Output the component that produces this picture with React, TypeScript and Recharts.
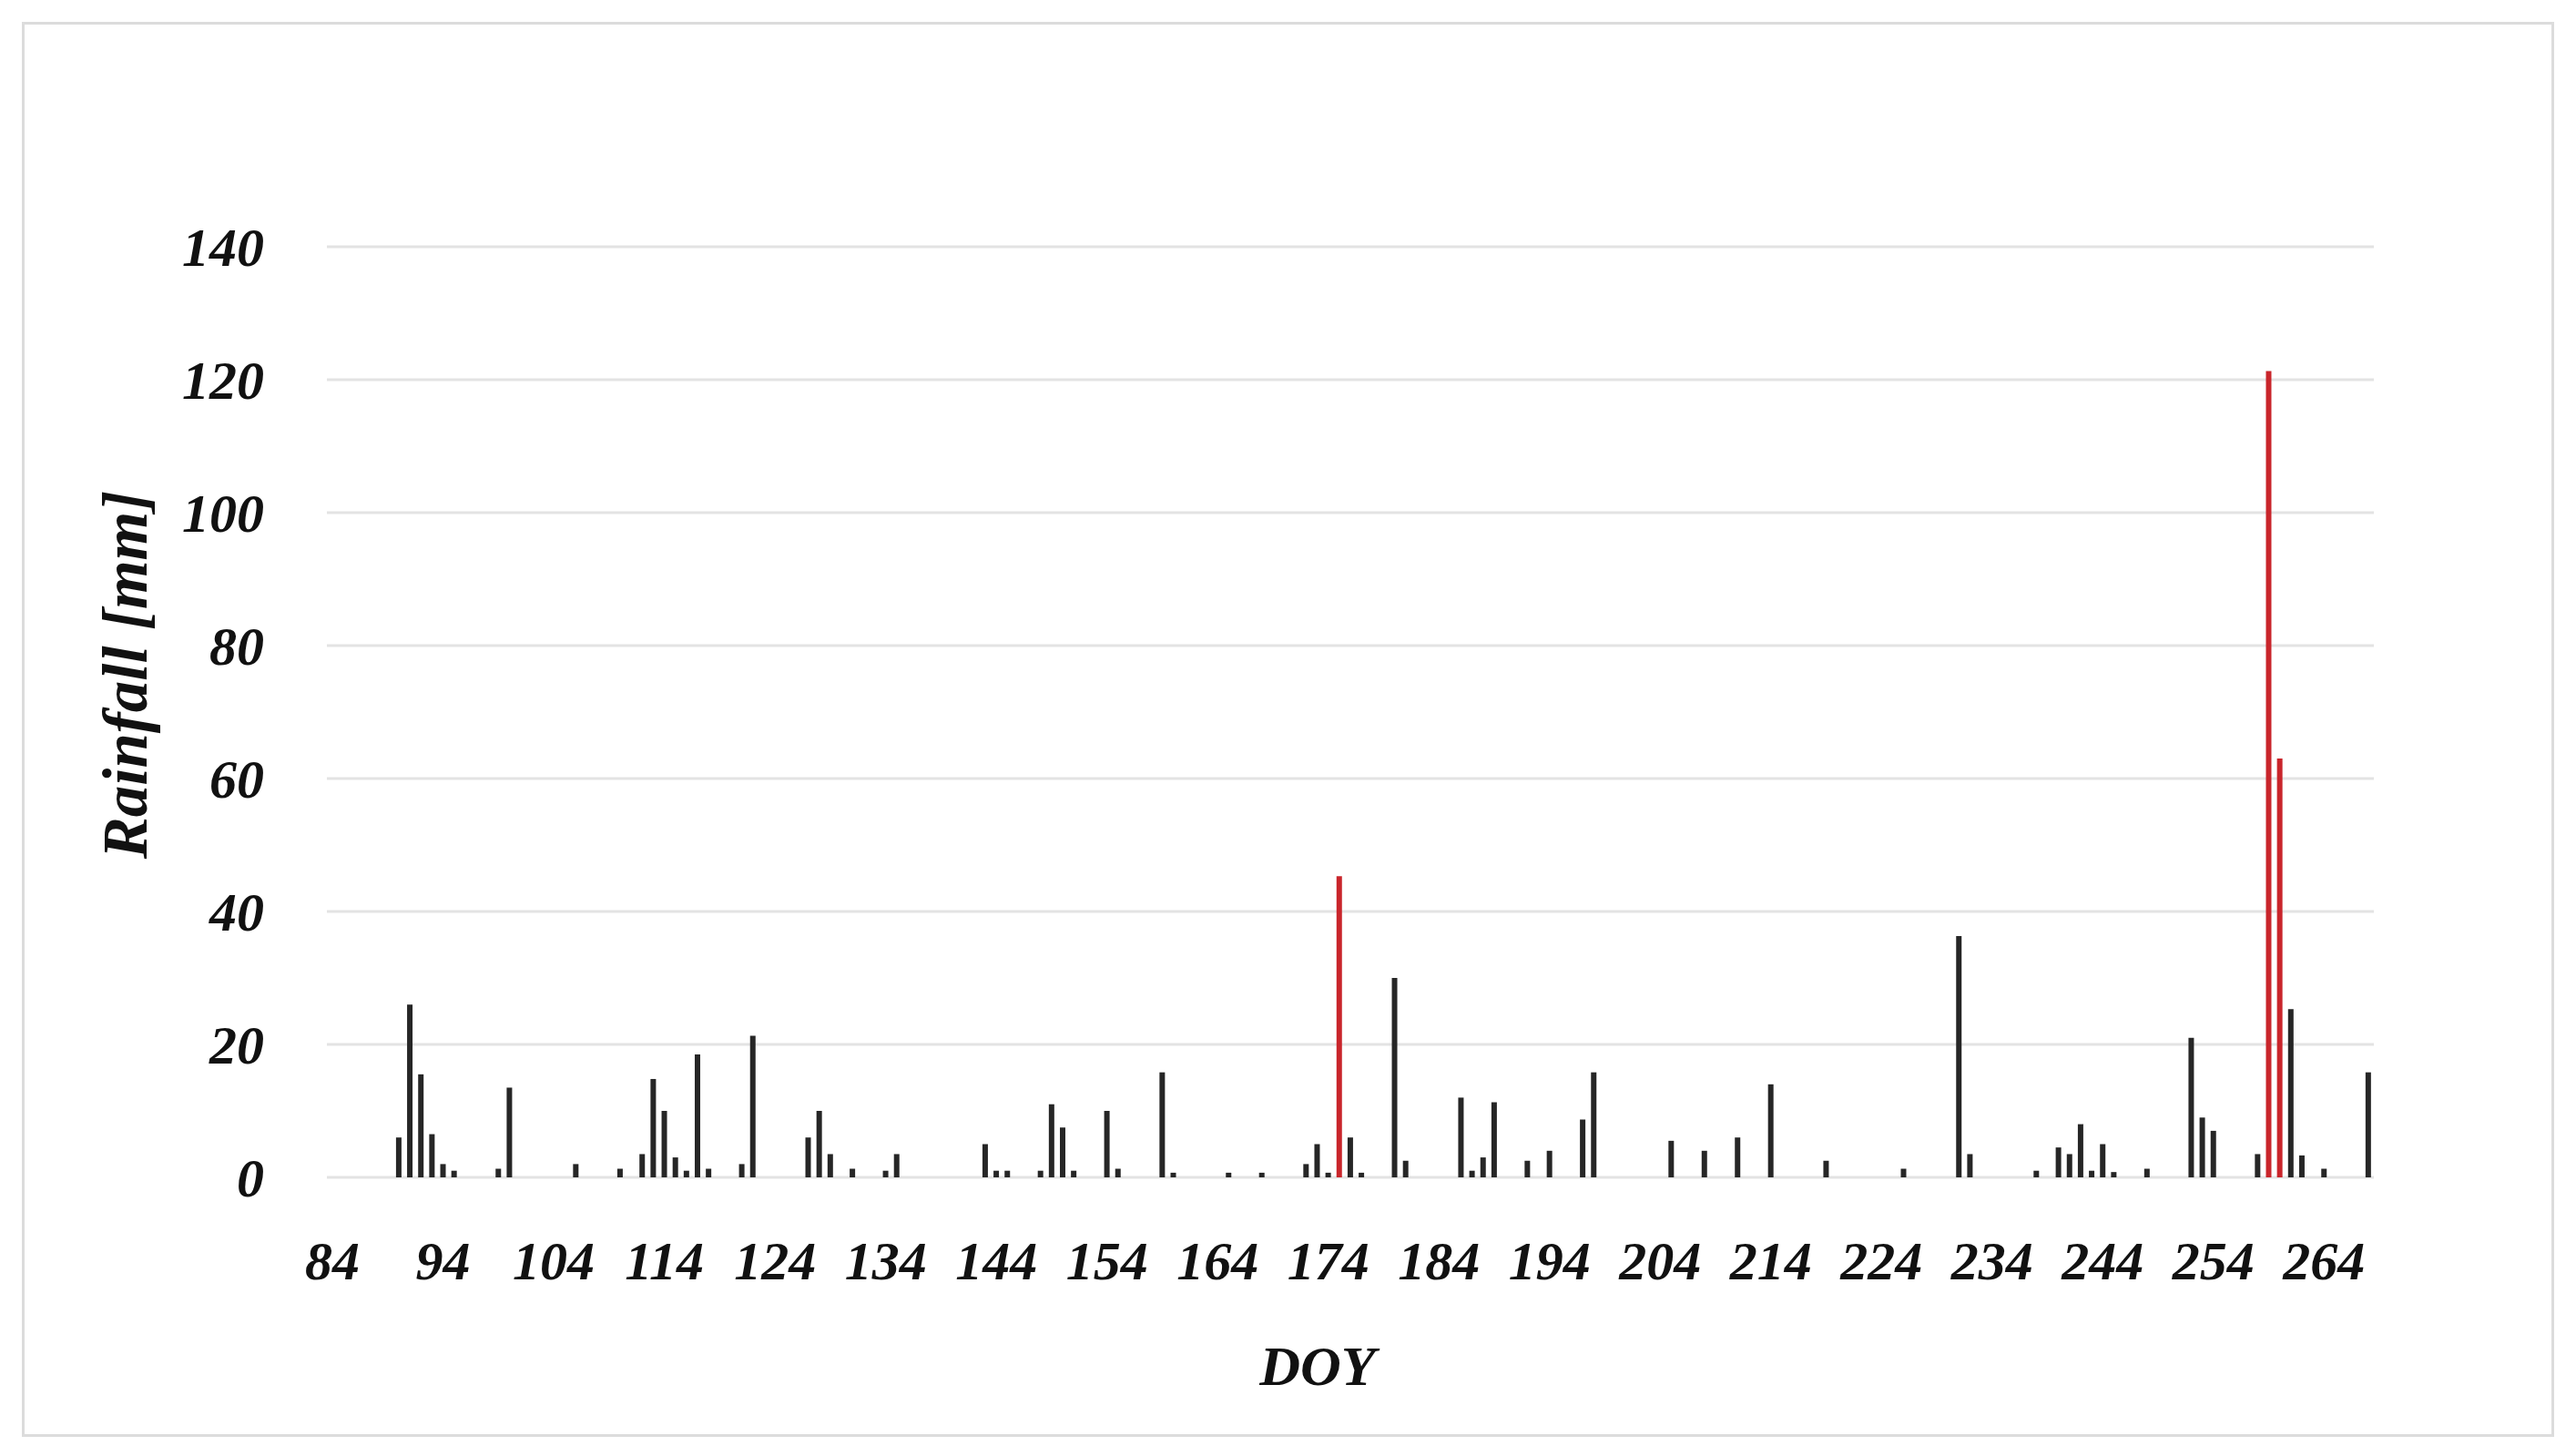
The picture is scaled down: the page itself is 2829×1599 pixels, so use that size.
import React from 'react';
import { BarChart, Bar, XAxis, YAxis, CartesianGrid, Cell, Label } from 'recharts';

// day-of-year range shown on the category axis
const firstDay = 84;
const lastDay = 268;

// daily rainfall [mm], days with rain only
const rainDays = [
    90, 91, 92, 93, 94, 95, 99, 100, 106, 110, 112, 113, 114, 115, 116, 117, 118, 121, 122,
    127, 128, 129, 131, 134, 135, 143, 144, 145, 148, 149, 150, 151, 154, 155, 159, 160,
    165, 168, 172, 173, 174, 176, 177, 180, 181, 186, 187, 188, 189, 192, 194, 197, 198,
    205, 208, 211, 214, 219, 226, 231, 232, 238, 240, 241, 242, 243, 244, 245, 248, 252,
    253, 254, 258, 261, 262, 264, 268,
];
const rainMm = [
    6, 26, 15.5, 6.5, 2, 1, 1.3, 13.5, 2, 1.3, 3.5, 14.8, 10, 3, 1, 18.5, 1.3, 2, 21.3,
    6, 10, 3.5, 1.3, 1, 3.5, 5, 1, 1, 1, 11, 7.5, 1, 10, 1.3, 15.8, 0.7,
    0.7, 0.7, 2, 5, 0.7, 6, 0.7, 30, 2.5, 12, 1, 3, 11.3, 2.5, 4, 8.7, 15.8,
    5.5, 4, 6, 14, 2.5, 1.3, 36.3, 3.5, 1, 4.5, 3.5, 8, 1, 5, 0.8, 1.3, 21,
    9, 7, 3.5, 25.3, 3.3, 1.3, 15.8,
];

// extreme events drawn in red
const peakDays = [175, 259, 260];
const peakMm = [45.3, 121.3, 63];

const yTicks = [0, 20, 40, 60, 80, 100, 120, 140];

const barColor = '#262626';
const peakColor = '#c9252b';
const gridColor = '#e3e3e3';
const fontFamily = '"Liberation Serif", "Times New Roman", serif';

const rainByDay = new Map<number, number>();
rainDays.forEach((d, i) => rainByDay.set(d, rainMm[i]));
peakDays.forEach((d, i) => rainByDay.set(d, peakMm[i]));

const data: { doy: number; rain: number; peak: boolean }[] = [];
for (let d = firstDay; d <= lastDay; d++) {
    data.push({ doy: d, rain: rainByDay.get(d) ?? 0, peak: peakDays.includes(d) });
}

const XTick = ({ x, y, payload }: any) => (
    <text x={x} y={y} dy={112} textAnchor="middle" fill="#111" fontFamily={fontFamily}
          fontStyle="italic" fontWeight="bold" fontSize={60}>
        {payload.value}
    </text>
);

const YTick = ({ x, y, payload }: any) => (
    <text x={x - 69} y={y} dy={21} textAnchor="end" fill="#111" fontFamily={fontFamily}
          fontStyle="italic" fontWeight="bold" fontSize={60}>
        {payload.value}
    </text>
);

const XTitle = ({ viewBox }: any) => (
    <text x={viewBox.x + viewBox.width / 2 - 36} y={viewBox.y + 228} textAnchor="middle"
          fill="#111" fontFamily={fontFamily} fontStyle="italic" fontWeight="bold" fontSize={62}>
        DOY
    </text>
);

const YTitle = ({ viewBox }: any) => {
    const cx = viewBox.x - 21;
    const cy = viewBox.y + viewBox.height / 2 - 41;
    return (
        <text x={cx} y={cy} transform={`rotate(-90, ${cx}, ${cy})`} textAnchor="middle"
              dominantBaseline="central" fill="#111" fontFamily={fontFamily}
              fontStyle="italic" fontWeight="bold" fontSize={69}>
            Rainfall [mm]
        </text>
    );
};

export default function App() {
    return (
        <div style={{ position: 'absolute', left: 0, top: 0, width: 2829, height: 1599, background: '#fff' }}>
            <div style={{
                position: 'absolute', left: 24, top: 24, width: 2775, height: 1548,
                border: '3px solid #dcdcdc',
            }} />
            <div style={{ position: 'absolute', left: 0, top: 0 }}>
                <BarChart width={2829} height={1599} data={data}
                          margin={{ top: 271, right: 222, bottom: 156, left: 159 }}
                          barCategoryGap={0}>
                    <CartesianGrid vertical={false} stroke={gridColor} strokeWidth={3} />
                    <XAxis dataKey="doy" type="category" interval={9} height={150}
                           axisLine={false} tickLine={false} tickSize={0} tickMargin={0} tick={XTick}>
                        <Label content={XTitle} />
                    </XAxis>
                    <YAxis domain={[0, 140]} ticks={yTicks} width={200} axisLine={false}
                           tickLine={false} tickSize={0} tickMargin={0} tick={YTick}>
                        <Label content={YTitle} />
                    </YAxis>
                    <Bar dataKey="rain" barSize={6} isAnimationActive={false}>
                        {data.map((d) => (
                            <Cell key={d.doy} fill={d.peak ? peakColor : barColor} />
                        ))}
                    </Bar>
                </BarChart>
            </div>
        </div>
    );
}
